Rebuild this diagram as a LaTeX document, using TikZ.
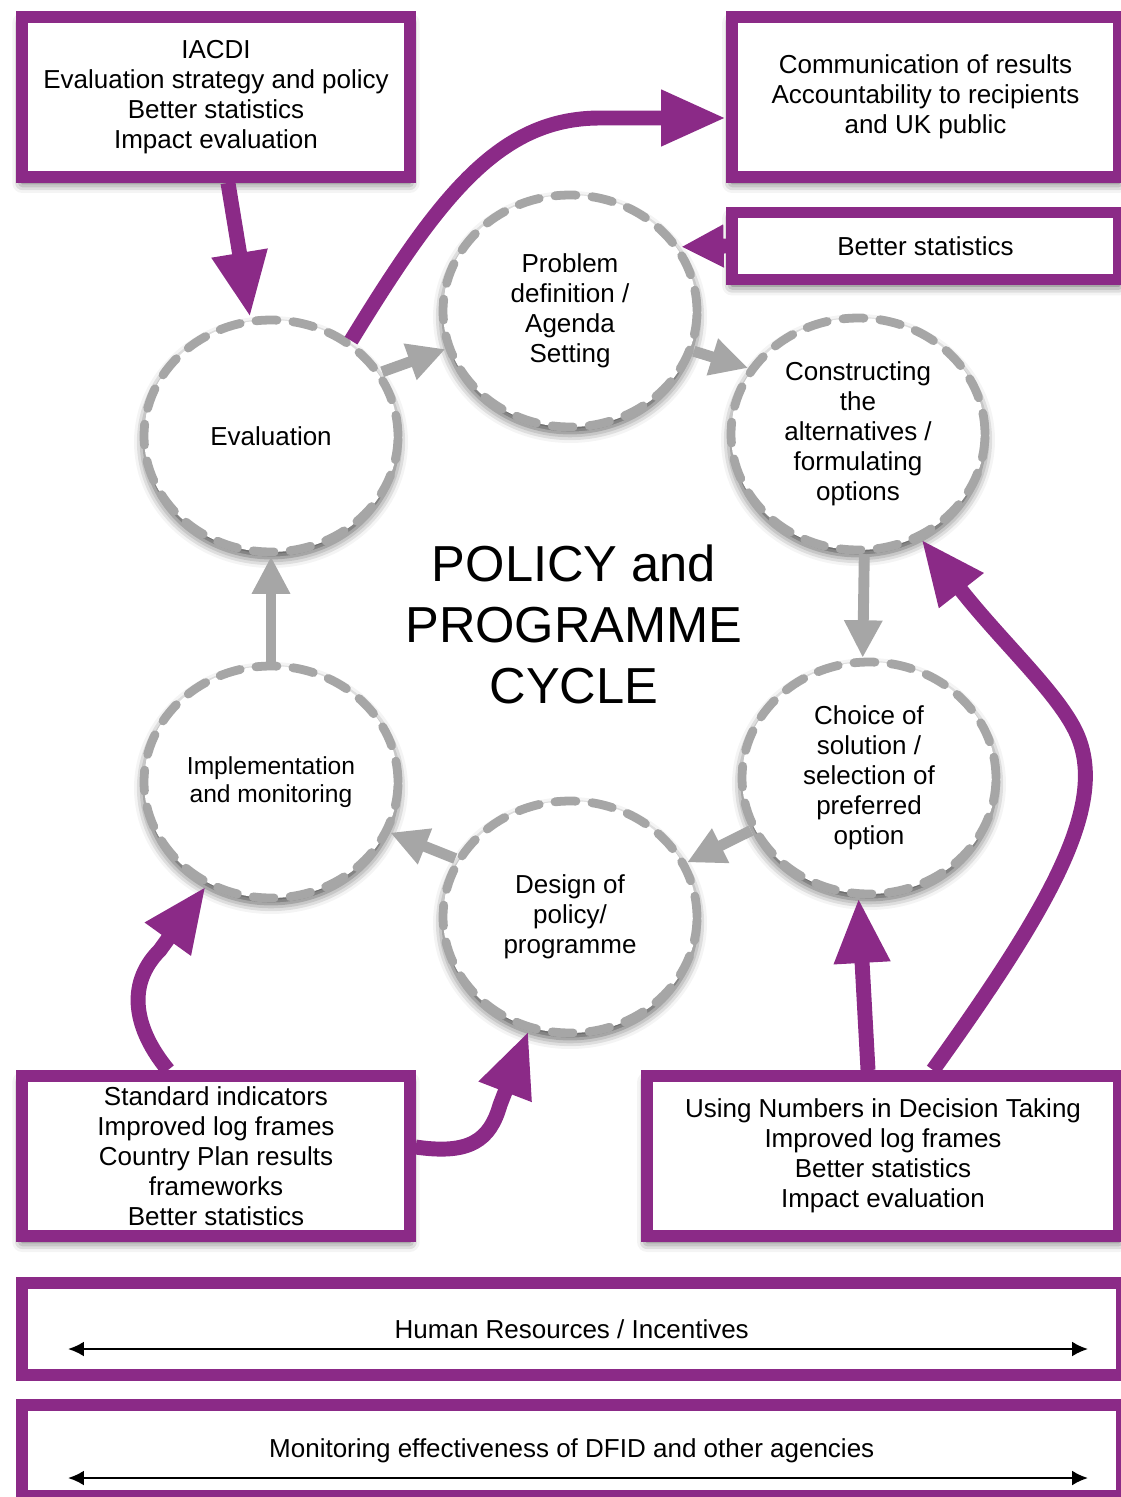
\documentclass[tikz,border=0pt]{standalone}
\usepackage{fontspec}
\setmainfont{Liberation Sans}
\usetikzlibrary{arrows.meta,shapes.geometric,shadows.blur}

\definecolor{dfidpurple}{HTML}{8B2A87}
\definecolor{cyclegray}{HTML}{A6A6A6}

\tikzset{
  boxshadow/.style={blur shadow={shadow xshift=0pt,shadow yshift=-0.12cm,shadow blur radius=0.2cm,shadow opacity=70}},
  infobox/.style={draw=dfidpurple,line width=6.8pt,fill=white,inner sep=0pt,align=center,
    font=\fontsize{14.8}{17}\selectfont,minimum width=7.75cm,minimum height=3.2cm,boxshadow},
  stage/.style={ellipse,draw=cyclegray,fill=white,line width=5pt,dash pattern=on 0.42cm off 0.32cm,
    line cap=round,minimum width=5.08cm,minimum height=4.64cm,inner sep=0pt,align=center,
    font=\fontsize{14.8}{17}\selectfont,boxshadow},
  widebar/.style={draw=dfidpurple,line width=6.8pt,fill=white,inner sep=0pt,
    font=\fontsize{14.8}{17}\selectfont,minimum width=22.01cm},
  purplearrow/.style={draw=dfidpurple,line width=8.5pt,-{Triangle[length=1.3cm,width=1.05cm]}},
  cyclearrow/.style={draw=cyclegray,line width=6.2pt,-{Triangle[length=0.75cm,width=0.72cm]}},
  spanarrow/.style={black,line width=1.3pt,{Latex[length=0.32cm,width=0.3cm]}-{Latex[length=0.32cm,width=0.3cm]}}
}

\begin{document}
\begin{tikzpicture}[x=0.02cm,y=-0.02cm]
  \useasboundingbox (0,0) rectangle (1120,1497);

  % boxes round the cycle
  \node[infobox] (iacdi) at (216,97) {IACDI\\Evaluation strategy and policy\\Better statistics\\Impact evaluation};
  \node[infobox,minimum width=7.74cm] (comm) at (925.5,97) {Communication of results\\Accountability to recipients\\and UK public};
  \node[infobox,minimum width=7.74cm,minimum height=1.34cm] (betstat) at (925.5,246) {Better statistics};
  \node[infobox] (stdind) at (216,1156) {Standard indicators\\Improved log frames\\Country Plan results\\frameworks\\Better statistics};
  \node[infobox,minimum width=9.44cm] (usenum) at (883,1156) {Using Numbers in Decision Taking\\Improved log frames\\Better statistics\\Impact evaluation};

  % the cycle
  \node[stage] (eval) at (271,436) {Evaluation};
  \node[stage] (prob) at (570,311) {Problem\\definition /\\Agenda\\Setting};
  \node[stage] (cons) at (858,434) {Constructing\\the\\alternatives /\\formulating\\options};
  \node[stage] (choice) at (869,778) {Choice of\\solution /\\selection of\\preferred\\option};
  \node[stage] (design) at (570,917) {Design of\\policy/\\programme};
  \node[stage,font=\fontsize{14}{16}\selectfont] (impl) at (271,782) {Implementation\\and monitoring};

  \node[align=center,font=\fontsize{28.8}{34.7}\selectfont] (title) at (574,624) {POLICY and\\PROGRAMME\\CYCLE};

  \draw[cyclearrow] (eval.30) -- (prob.197);
  \draw[cyclearrow] (prob.-18) -- (cons.149);
  \draw[cyclearrow] (cons.-87) -- (choice.93);
  \draw[cyclearrow] (choice.204) -- (design.25);
  \draw[cyclearrow] (design.153) -- (impl.-23);
  \draw[cyclearrow] (impl.north) -- (eval.south);

  % purple links
  \draw[purplearrow] ([xshift=0.24cm]iacdi.south) -- (eval.100);
  \draw[purplearrow] (eval.50) .. controls (440,195) and (500,118) .. (600,118) -- ([yshift=-0.42cm]comm.west);
  \draw[purplearrow,-{Triangle[length=0.85cm,width=0.8cm]}] (betstat.west) -- (prob.30);
  \draw[purplearrow] ([xshift=-0.96cm]stdind.north) .. controls (135,1030) and (125,985) .. (160,950) -- (impl.238);
  \draw[purplearrow] ([yshift=0.18cm]stdind.east) .. controls (470,1155) and (490,1140) .. (500,1105) -- (design.250);
  \draw[purplearrow] ([xshift=-0.3cm]usenum.north) -- (choice.265);
  \draw[purplearrow] ([xshift=1cm]usenum.north) .. controls (1055,900) and (1110,800) .. (1075,730)
    .. controls (1055,690) and (1000,640) .. (cons.-59);

  % bottom bars
  \node[widebar,minimum height=1.84cm] (hr) at (571.75,1329) {Human Resources / Incentives};
  \node[widebar,minimum height=1.82cm] (monit) at (571.75,1450.5) {Monitoring effectiveness of DFID and other agencies};
  \coordinate (hrL) at (68,1349);
  \coordinate (hrR) at (1088,1349);
  \coordinate (monitL) at (68,1478);
  \coordinate (monitR) at (1088,1478);
  \draw[spanarrow] (hrL) -- (hrR);
  \draw[spanarrow] (monitL) -- (monitR);
\end{tikzpicture}
\end{document}
